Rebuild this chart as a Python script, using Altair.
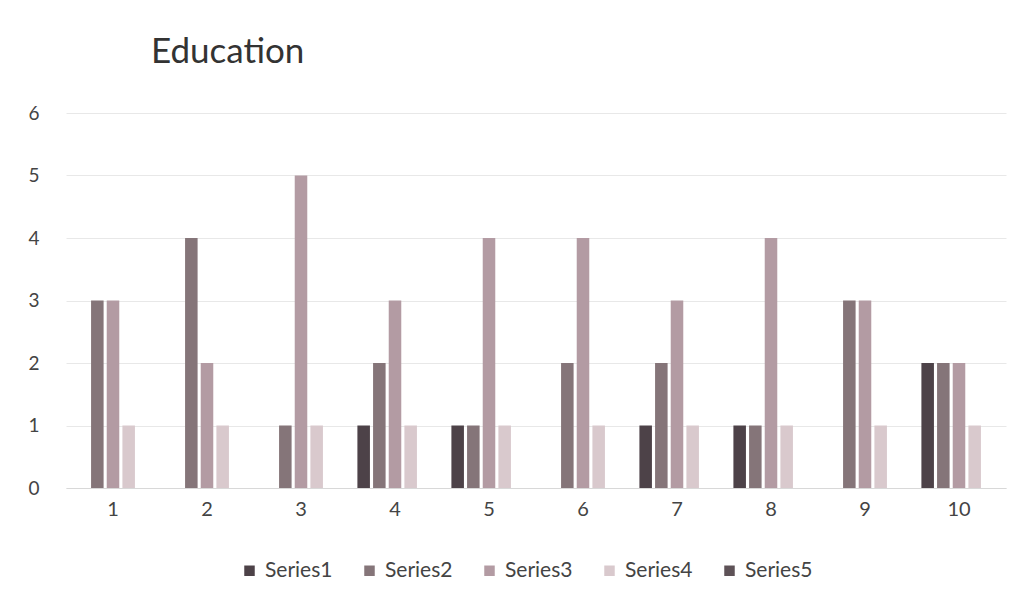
import altair as alt
import pandas as pd

categories = ["1", "2", "3", "4", "5", "6", "7", "8", "9", "10"]
series_names = ["Series1", "Series2", "Series3", "Series4", "Series5"]
series1 = [0, 0, 0, 1, 1, 0, 1, 1, 0, 2]
series2 = [3, 4, 1, 2, 1, 2, 2, 1, 3, 2]
series3 = [3, 2, 5, 3, 4, 4, 3, 4, 3, 2]
series4 = [1, 1, 1, 1, 1, 1, 1, 1, 1, 1]
series5 = [0, 0, 0, 0, 0, 0, 0, 0, 0, 0]
y_ticks = [0, 1, 2, 3, 4, 5, 6]

colors = ["#4d4248", "#857579", "#b39ba3", "#d9c9cd", "#5e5257"]

rows = []
for name, vals in zip(series_names, [series1, series2, series3, series4, series5]):
    for c, v in zip(categories, vals):
        rows.append({"cat": c, "series": name, "value": v})
df = pd.DataFrame(rows)

chart = alt.Chart(df).mark_bar().encode(
    x=alt.X("cat:N", sort=categories, title=None,
            scale=alt.Scale(paddingInner=0.2, paddingOuter=0.1),
            axis=alt.Axis(labelAngle=0, labelFontSize=20, labelColor="#444",
                          labelFont="Lato", ticks=False, domainColor="#d8d8d8",
                          labelPadding=11)),
    xOffset=alt.XOffset("series:N", sort=series_names,
                        scale=alt.Scale(paddingInner=0.2)),
    y=alt.Y("value:Q", title=None,
            scale=alt.Scale(domain=[0, 6]),
            axis=alt.Axis(values=y_ticks, labelFontSize=19, labelColor="#444",
                          labelFont="Lato", ticks=False, domain=False,
                          gridColor="#e8e8e8", labelPadding=27)),
    color=alt.Color("series:N", sort=series_names,
                    scale=alt.Scale(domain=series_names, range=colors),
                    legend=alt.Legend(title=None, orient="none", direction="horizontal",
                                      legendX=173, legendY=447,
                                      symbolType="square", symbolSize=110,
                                      symbolStrokeWidth=0,
                                      labelFontSize=21, labelFont="Lato",
                                      labelColor="#444", columnPadding=26,
                                      labelOffset=5)),
).properties(
    width=940,
    height=375,
    title=alt.TitleParams("Education", anchor="start", dx=123, offset=34,
                          fontSize=35, font="Lato", fontWeight="normal",
                          color="#333"),
    autosize=alt.AutoSizeParams(type="none"),
    padding={"left": 58, "top": 105, "right": 13, "bottom": 118},
).configure_view(stroke=None)

chart.save("out.html", embed_options={"renderer": "svg", "actions": False})
